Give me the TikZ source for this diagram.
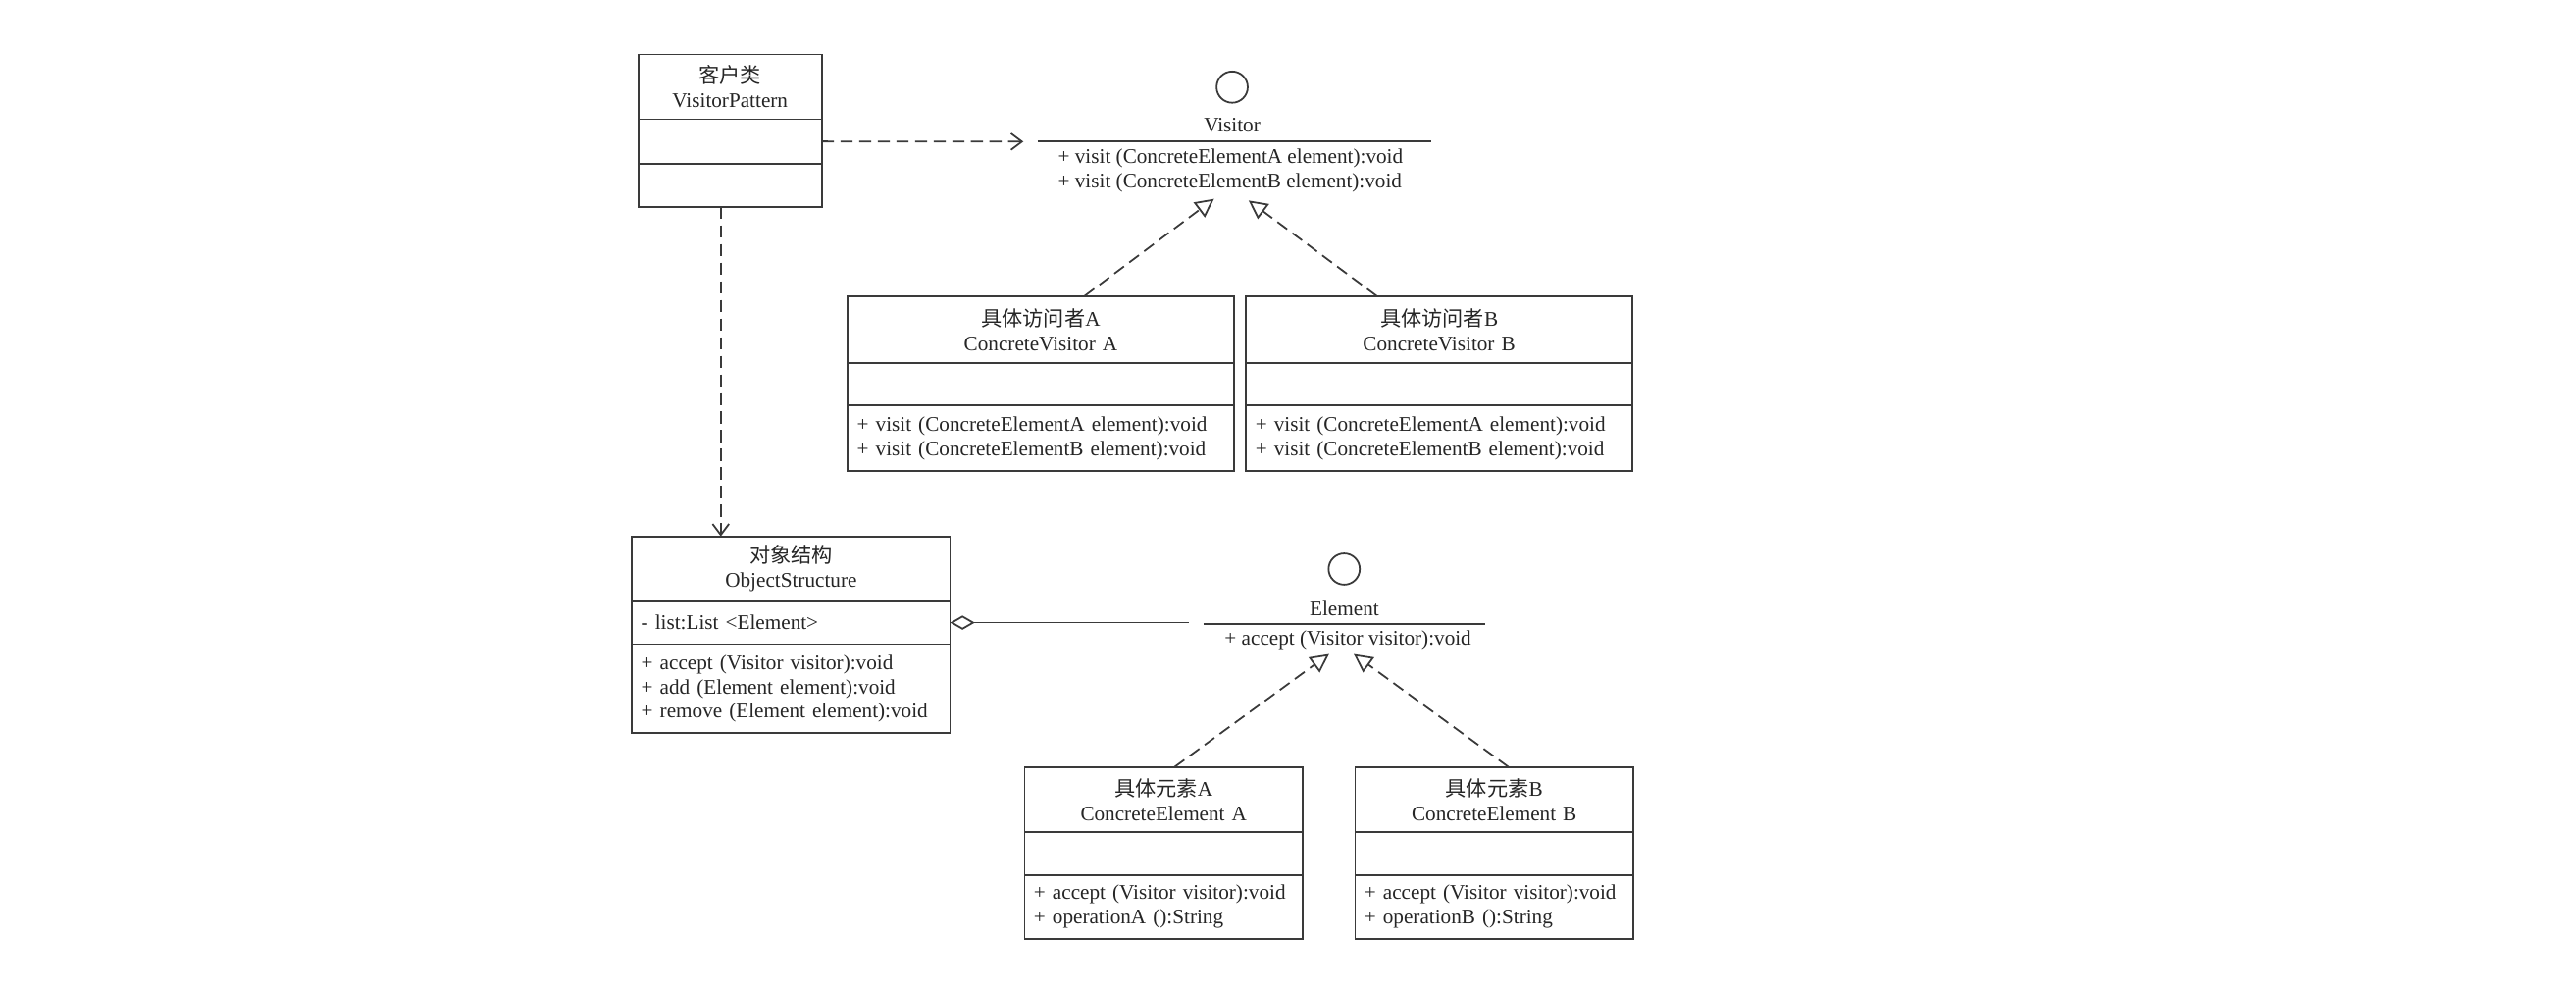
\documentclass[tikz,border=0pt]{standalone}
\usepackage{fontspec}
\setmainfont{Liberation Serif}
\newfontfamily\cjk{Noto Sans CJK SC}
\usetikzlibrary{positioning,arrows.meta}
\definecolor{linegray}{HTML}{3A3A3A}
\definecolor{inkgray}{HTML}{262626}
\newcommand{\umlfont}{\fontsize{10.8pt}{12.7pt}\selectfont}

\begin{document}
\begin{tikzpicture}[
		x=0.03cm, y=-0.03cm,
		node distance=0pt,
		every node/.style={font=\umlfont, text=inkgray},
		compartment/.style={
			draw=linegray,
			line width=0.9pt,
			inner xsep=0.17cm,
			inner ysep=0pt,
			outer sep=0pt
		},
		header/.style={compartment, text width=#1, align=center},
		members/.style={compartment, text width=#1, align=left},
		lollipop/.style={
			circle,
			draw=linegray,
			line width=0.9pt,
			minimum size=0.57cm,
			inner sep=0pt
		},
		link/.style={draw=linegray, line width=0.9pt},
		dep/.style={
			link,
			dash pattern=on 0.22cm off 0.12cm,
			-{Straight Barb[length=0.2cm, width=0.3cm]}
		},
		realize/.style={
			link,
			dash pattern=on 0.22cm off 0.12cm,
			-{Triangle[open, length=0.34cm, width=0.34cm]}
		},
		aggr/.style={link, {Diamond[open, length=0.45cm, width=0.26cm]}-}
	]
		\fill[white] (0,0) rectangle (1568,602);

		% client
		\node[header=3.014cm, minimum height=1.182cm] (client-head) at (444.4,52.9)
			{{\cjk 客户类}\\VisitorPattern};
		\node[members=3.014cm, minimum height=0.807cm, below=of client-head] (client-attrs) {};
		\node[members=3.014cm, minimum height=0.789cm, below=of client-attrs] (client-ops) {};

		% visitor interface
		\node[lollipop] (visitor-icon) at (750,53) {};
		\node (visitor-name) at (750,76) {Visitor};
		\coordinate (visitor-l) at (631.6,86.2);
		\coordinate (visitor-r) at (871,86.2);
		\draw[link] (visitor-l) -- (visitor-r);
		\node[align=left] (visitor-ops) at (749,104)
			{+ visit (ConcreteElementA element):void\\+ visit (ConcreteElementB element):void};
		\coordinate (visitor-in-a) at (739,121);
		\coordinate (visitor-in-b) at (760,122);

		% concrete visitors
		\node[header=6.71cm, minimum height=1.224cm] (cva-head) at (633.5,200.5)
			{{\cjk 具体访问者}A\\ConcreteVisitor A};
		\node[members=6.71cm, minimum height=0.777cm, below=of cva-head] (cva-attrs) {};
		\node[members=6.71cm, minimum height=1.194cm, below=of cva-attrs] (cva-ops)
			{+ visit (ConcreteElementA element):void\\+ visit (ConcreteElementB element):void};

		\node[header=6.71cm, minimum height=1.224cm] (cvb-head) at (876,200.5)
			{{\cjk 具体访问者}B\\ConcreteVisitor B};
		\node[members=6.71cm, minimum height=0.777cm, below=of cvb-head] (cvb-attrs) {};
		\node[members=6.71cm, minimum height=1.194cm, below=of cvb-attrs] (cvb-ops)
			{+ visit (ConcreteElementA element):void\\+ visit (ConcreteElementB element):void};

		% object structure
		\node[header=5.47cm, minimum height=1.182cm] (os-head) at (481.5,346.1)
			{{\cjk 对象结构}\\ObjectStructure};
		\node[members=5.47cm, minimum height=0.786cm, below=of os-head] (os-attrs)
			{- list:List <Element>};
		\node[members=5.47cm, minimum height=1.626cm, below=of os-attrs] (os-ops)
			{+ accept (Visitor visitor):void\\+ add (Element element):void\\+ remove (Element element):void};

		% element interface
		\node[lollipop] (element-icon) at (818.2,346.3) {};
		\node (element-name) at (818.3,370.6) {Element};
		\coordinate (element-l) at (732.5,379.7);
		\coordinate (element-r) at (904,379.7);
		\draw[link] (element-l) -- (element-r);
		\node (element-ops) at (820.5,389.7) {+ accept (Visitor visitor):void};
		\coordinate (element-in-a) at (809,398);
		\coordinate (element-in-b) at (824,398);

		% concrete elements
		\node[header=4.74cm, minimum height=1.194cm] (cea-head) at (708.3,486.6)
			{{\cjk 具体元素}A\\ConcreteElement A};
		\node[members=4.74cm, minimum height=0.777cm, below=of cea-head] (cea-attrs) {};
		\node[members=4.74cm, minimum height=1.164cm, below=of cea-attrs] (cea-ops)
			{+ accept (Visitor visitor):void\\+ operationA ():String};

		\node[header=4.74cm, minimum height=1.194cm] (ceb-head) at (909.5,486.6)
			{{\cjk 具体元素}B\\ConcreteElement B};
		\node[members=4.74cm, minimum height=0.777cm, below=of ceb-head] (ceb-attrs) {};
		\node[members=4.74cm, minimum height=1.164cm, below=of ceb-attrs] (ceb-ops)
			{+ accept (Visitor visitor):void\\+ operationB ():String};

		% relations
		\draw[dep, shorten >=0.26cm] (client-attrs.east) -- (visitor-l);
		\draw[dep] ([xshift=-0.17cm]client-ops.south)
			-- ([xshift=-0.17cm]client-ops.south |- os-head.north);
		\draw[realize] ([xshift=0.8cm]cva-head.north) -- (visitor-in-a);
		\draw[realize] ([xshift=-1.14cm]cvb-head.north) -- (visitor-in-b);
		\draw[aggr] (os-attrs.east) -- ([xshift=-0.26cm]element-l |- os-attrs.east);
		\draw[realize] ([xshift=0.2cm]cea-head.north) -- (element-in-a);
		\draw[realize] ([xshift=0.26cm]ceb-head.north) -- (element-in-b);
	\end{tikzpicture}
\end{document}
